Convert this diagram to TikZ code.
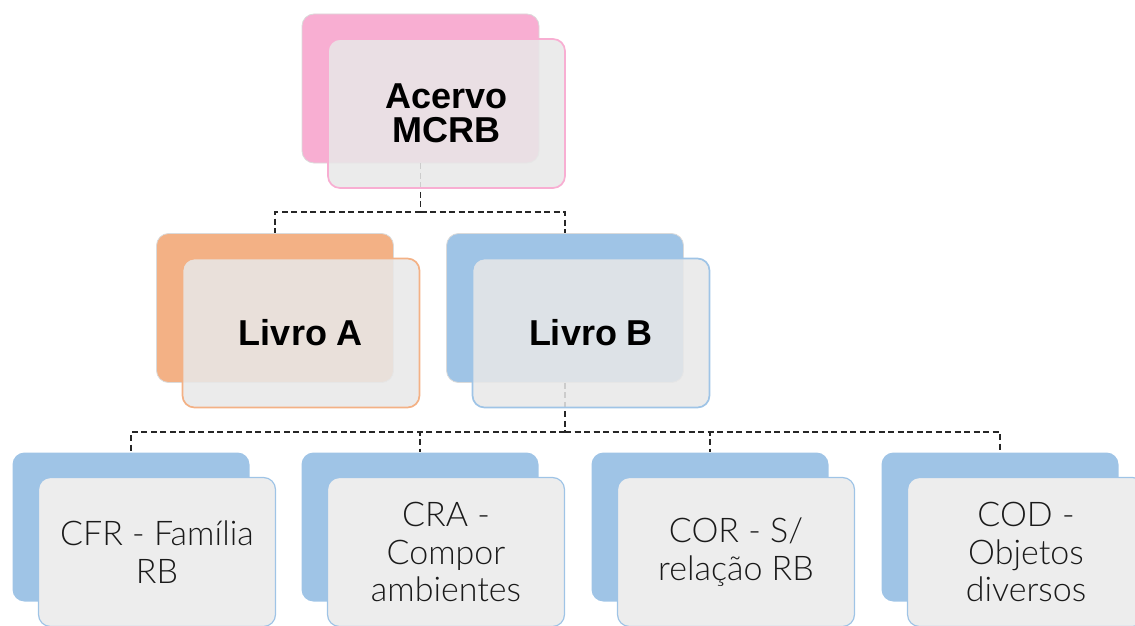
\documentclass[tikz,border=0pt]{standalone}
\usepackage{fontspec}
\setmainfont{Liberation Sans}
\newfontfamily\lightfont{Lato Light}
\definecolor{pinkback}{HTML}{F8AED2}
\definecolor{orangeback}{HTML}{F3B185}
\definecolor{blueback}{HTML}{9FC4E6}
\definecolor{cardfill}{HTML}{E8E8E8}
\definecolor{solidfill}{HTML}{EDEDED}
\definecolor{edgegray}{HTML}{DADADA}
\definecolor{labelgray}{HTML}{1A1A1A}
\tikzset{
  backcard/.style={draw=edgegray, line width=0.8pt, fill=#1, rounded corners=12pt,
    minimum width=237pt, minimum height=149pt, inner sep=0pt},
  frontcard/.style={draw=#1, line width=1.7pt, fill=cardfill, fill opacity=0.86,
    draw opacity=1, text opacity=1, rounded corners=12pt, minimum width=237pt,
    minimum height=149pt, inner sep=0pt, align=center},
  solidcard/.style={draw=#1, line width=1.2pt, fill=solidfill,
    rounded corners=12pt, minimum width=237pt, minimum height=149pt,
    inner sep=0pt, align=center},
  boldlabel/.style={font=\fontsize{36}{34}\selectfont\bfseries, text=black},
  lightlabel/.style={font=\lightfont\fontsize{34}{37.5}\selectfont, text=labelgray},
  conn/.style={draw=black!85, line width=1.1pt, dash pattern=on 6pt off 3.5pt},
}
\begin{document}
\begin{tikzpicture}[x=1pt, y=-1pt]
\useasboundingbox (0,0) rectangle (1135,626);

% back cards
\node[backcard=pinkback]   (topb) at (420.5,88.5) {};
\node[backcard=orangeback] (lab)  at (275,308) {};
\node[backcard=blueback]   (lbb)  at (565,308) {};
\node[backcard=blueback, draw=none] (cfrb) at (131,527) {};
\node[backcard=blueback, draw=none] (crab) at (420,527) {};
\node[backcard=blueback, draw=none] (corb) at (710,527) {};
\node[backcard=blueback, draw=none] (codb) at (1000,527) {};

% connectors
\coordinate (j1) at (420.5,212);
\coordinate (j2) at (565,432);
\draw[conn] (topb.south) -- (j1);
\draw[conn] (j1) -| (lab.north);
\draw[conn] (j1) -| (lbb.north);
\draw[conn] (lbb.south) -- (j2);
\draw[conn] (j2) -| (cfrb.north);
\draw[conn] (j2) -| (crab.north);
\draw[conn] (j2) -| (corb.north);
\draw[conn] (j2) -| (codb.north);

% front cards with labels
\node[frontcard=pinkback, boldlabel]   (top) at (446.5,113.5) {Acervo\\MCRB};
\node[frontcard=orangeback, boldlabel] (la)  at (301,333) {Livro A};
\node[frontcard=blueback, boldlabel]   (lb)  at (591,333) {Livro B};
\node[solidcard=blueback, lightlabel]  (cfr) at (157,552) {CFR - Família\\RB};
\node[solidcard=blueback, lightlabel]  (cra) at (446,552) {CRA -\\Compor\\ambientes};
\node[solidcard=blueback, lightlabel]  (cor) at (736,552) {COR - S/\\relação RB};
\node[solidcard=blueback, lightlabel]  (cod) at (1026,552) {COD -\\Objetos\\diversos};
\end{tikzpicture}
\end{document}
